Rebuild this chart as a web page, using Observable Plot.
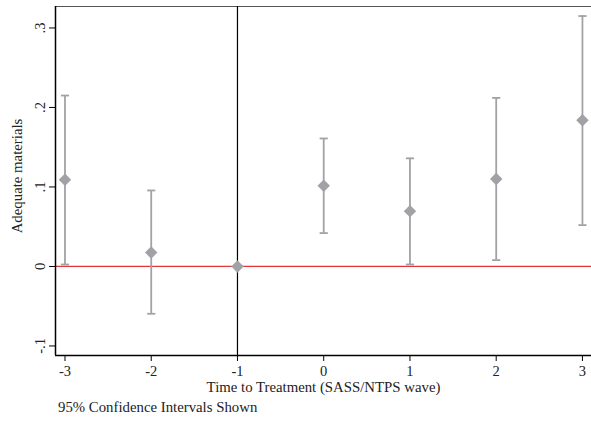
<!DOCTYPE html>
<html>
<head>
<meta charset="utf-8">
<script src="https://cdn.jsdelivr.net/npm/d3@7"></script>
<script src="https://cdn.jsdelivr.net/npm/@observablehq/plot@0.6"></script>
<style>
  html, body { margin: 0; padding: 0; background: #fff; }
  #chart { width: 591px; height: 423px; position: relative; font-family: "Liberation Serif", "DejaVu Serif", serif; }
  #chart svg text { font-family: "Liberation Serif", "DejaVu Serif", serif; }
  #caption { position: absolute; left: 58px; top: 399px; font-size: 14.8px; line-height: 17px; color: #222; white-space: nowrap; }
</style>
</head>
<body>
<div id="chart"></div>
<script>
const periods = [-3, -2, -1, 0, 1, 2, 3];
const estimates = [0.109, 0.0176, 0, 0.1015, 0.0696, 0.11, 0.184];
const lowerCI = [0.0025, -0.0595, null, 0.042, 0.0025, 0.008, 0.052];
const upperCI = [0.215, 0.0956, null, 0.161, 0.136, 0.212, 0.315];
const yTicks = [-0.1, 0, 0.1, 0.2, 0.3];
const yTickLabels = ["-.1", "0", ".1", ".2", ".3"];
const xTicks = [-3, -2, -1, 0, 1, 2, 3];
const yTitle = "Adequate materials";
const xTitle = "Time to Treatment (SASS/NTPS wave)";
const captionText = "95% Confidence Intervals Shown";

const rows = periods.map((p, i) => ({x: p, est: estimates[i], lo: lowerCI[i], hi: upperCI[i]}));
const ciRows = rows.filter(d => d.lo != null);
const gray = "#a2a2a6";
const serif = "Liberation Serif";
const capSymbol = { draw(ctx, size) { const w = Math.sqrt(size); ctx.moveTo(-w, 0); ctx.lineTo(w, 0); } };

const plot = Plot.plot({
  width: 591,
  height: 398,
  marginLeft: 55,
  marginRight: 0,
  marginTop: 6,
  marginBottom: 43,
  style: "font-family: 'Liberation Serif', serif; font-size: 14.5px; color: #222; background: #fff;",
  x: { domain: [-3.11, 3.105] },
  y: { domain: [-0.112, 0.327] },
  marks: [
    Plot.frame({ stroke: "#555", strokeWidth: 1 }),
    Plot.ruleX([-1], { stroke: "#000", strokeWidth: 1.2 }),
    Plot.ruleY([0], { stroke: "#e0363a", strokeWidth: 1.3 }),
    Plot.ruleX(ciRows, { x: "x", y1: "lo", y2: "hi", stroke: gray, strokeWidth: 1.8 }),
    Plot.dot(ciRows, { x: "x", y: "lo", symbol: capSymbol, r: 2.3, stroke: gray, strokeWidth: 1.8, fill: "none" }),
    Plot.dot(ciRows, { x: "x", y: "hi", symbol: capSymbol, r: 2.3, stroke: gray, strokeWidth: 1.8, fill: "none" }),
    Plot.dot(rows, { x: "x", y: "est", symbol: "diamond2", r: 5.6, fill: gray, stroke: "none" }),
    Plot.axisY({ ticks: yTicks, tickSize: 6, tickFormat: () => "", stroke: "#000" }),
    Plot.text(yTicks, { y: d => d, text: (d, i) => yTickLabels[i], frameAnchor: "left", dx: -15, rotate: -90, textAnchor: "middle", lineAnchor: "middle", fontSize: 14.5, fontFamily: serif, fill: "#222" }),
    Plot.axisX({ ticks: xTicks, tickSize: 6, tickPadding: 4, tickFormat: d => String(d), stroke: "#000", fontSize: 14.5, label: null }),
    Plot.ruleX([-3.11], { stroke: "#000", strokeWidth: 1.5 }),
    Plot.ruleY([-0.112], { stroke: "#000", strokeWidth: 1.5 }),
    Plot.text([yTitle], { frameAnchor: "left", dx: -38, dy: -5, rotate: -90, textAnchor: "middle", lineAnchor: "middle", fontSize: 14.8, fontFamily: serif, fill: "#222" }),
    Plot.text([xTitle], { frameAnchor: "bottom", dy: 32, lineAnchor: "middle", fontSize: 14.8, fontFamily: serif, fill: "#222" })
  ]
});
document.getElementById("chart").appendChild(plot);
const cap = document.createElement("div");
cap.id = "caption";
cap.textContent = captionText;
document.getElementById("chart").appendChild(cap);
</script>
</body>
</html>
